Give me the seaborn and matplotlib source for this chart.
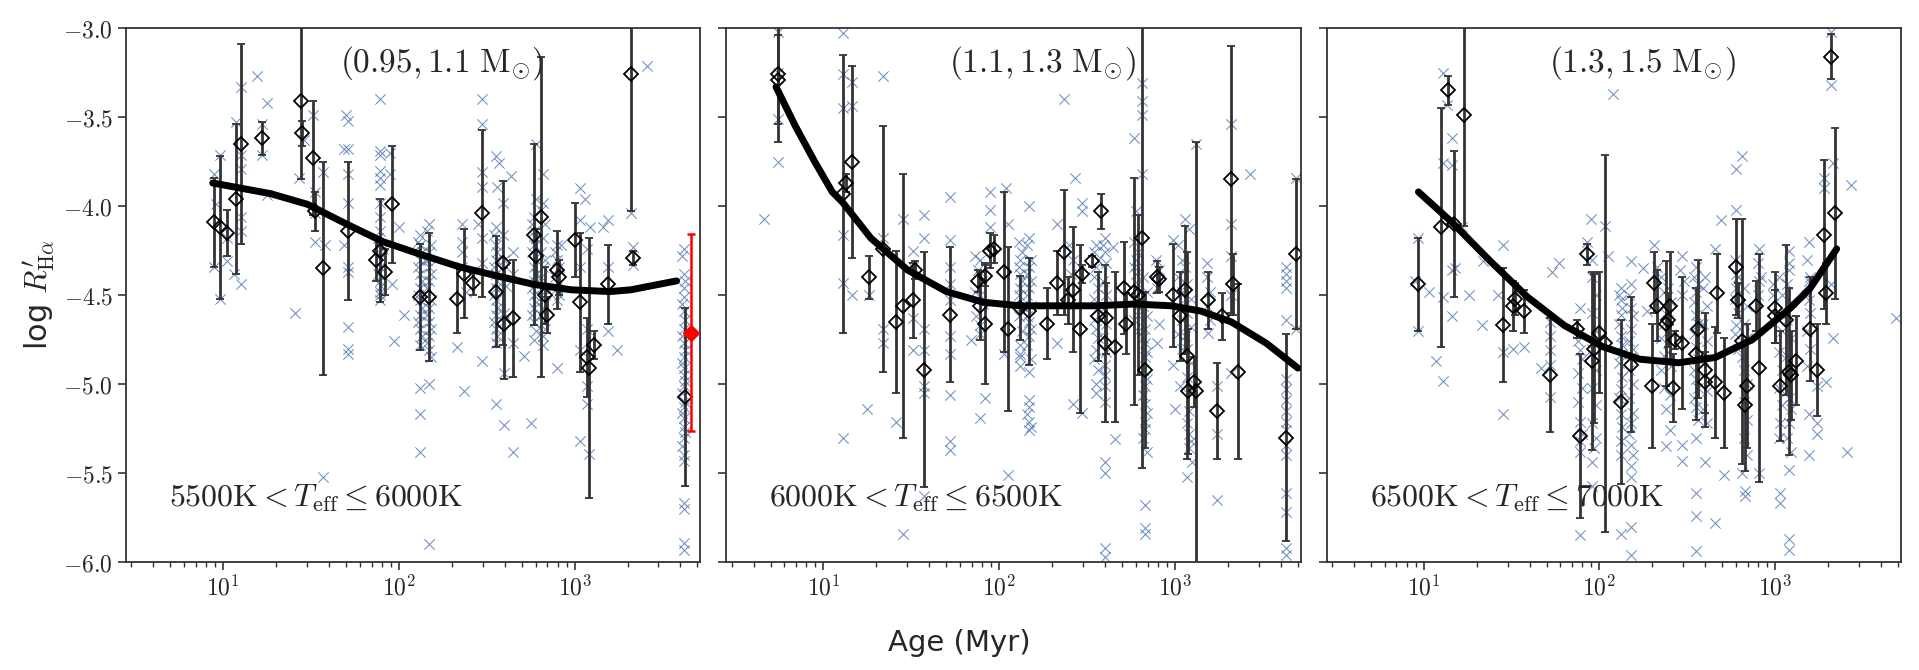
import numpy as np
import pandas as pd
import matplotlib
matplotlib.use("Agg")
import matplotlib.pyplot as plt
import seaborn as sns
from matplotlib.ticker import FuncFormatter, LogLocator, NullFormatter, MultipleLocator

# ---- data: (log10 age [Myr], log R'Halpha) ----
p1_crosses = [
    (0.95, -3.82), (0.95, -4.34), (0.96, -3.99), (0.98, -3.71), (0.98, -4.52), (1.02, -4.31), (1.02, -4.18),
    (1.06, -4.38), (1.10, -4.44), (1.10, -3.33), (1.10, -3.71), (1.10, -3.79), (1.10, -4.06), (1.10, -4.14),
    (1.07, -3.53), (1.19, -3.27), (1.25, -3.42), (1.22, -3.54), (1.22, -3.71), (1.25, -3.94),
    (1.41, -4.60), (1.43, -3.84), (1.46, -3.63), (1.51, -3.49), (1.52, -3.92), (1.52, -4.04), (1.52, -4.20),
    (1.57, -3.81), (1.58, -4.22), (1.57, -5.52),
    (1.70, -3.49), (1.71, -3.52), (1.69, -3.68), (1.71, -3.68), (1.71, -3.82), (1.71, -3.98), (1.71, -4.34),
    (1.71, -4.37), (1.71, -4.68), (1.71, -4.80), (1.71, -4.83), (1.69, -4.22),
    (1.89, -3.40), (1.89, -3.69), (1.89, -3.71), (1.89, -3.80), (1.89, -3.84), (1.89, -3.88), (1.89, -3.98),
    (1.89, -4.06), (1.89, -4.14), (1.89, -4.22), (1.89, -4.34), (1.89, -4.42), (1.89, -4.48), (1.89, -4.53),
    (1.88, -4.18), (1.90, -4.27), (1.88, -4.38), (1.90, -4.45), (1.89, -4.50),
    (1.91, -4.24), (1.95, -3.70), (1.95, -3.82), (1.96, -4.44), (1.97, -4.76), (2.00, -4.12), (2.03, -4.61),
    (2.12, -4.16), (2.12, -4.22), (2.12, -4.30), (2.12, -4.38), (2.12, -4.46), (2.12, -4.53), (2.12, -4.61),
    (2.12, -4.69), (2.12, -5.02), (2.12, -5.17), (2.12, -5.38),
    (2.11, -4.20), (2.13, -4.26), (2.11, -4.34), (2.13, -4.42), (2.11, -4.50), (2.13, -4.57), (2.11, -4.65),
    (2.13, -4.73), (2.12, -4.78),
    (2.17, -4.10), (2.17, -4.26), (2.17, -4.34), (2.17, -4.42), (2.17, -4.57), (2.17, -4.65), (2.17, -4.73),
    (2.17, -4.81), (2.17, -5.00), (2.17, -5.90), (2.15, -4.30),
    (2.16, -4.14), (2.18, -4.22), (2.16, -4.30), (2.18, -4.38), (2.16, -4.46), (2.18, -4.53), (2.16, -4.61),
    (2.18, -4.69), (2.16, -4.77), (2.18, -4.85),
    (2.33, -4.79), (2.36, -4.10), (2.36, -4.20), (2.36, -4.26), (2.36, -4.34), (2.37, -5.04), (2.38, -4.48),
    (2.47, -3.40), (2.47, -3.54), (2.47, -3.81), (2.47, -3.89), (2.47, -4.18), (2.47, -4.32), (2.47, -4.87),
    (2.45, -4.10),
    (2.55, -3.72), (2.57, -3.76), (2.56, -3.89), (2.59, -3.98), (2.64, -3.83), (2.55, -4.12), (2.55, -4.22),
    (2.55, -4.30), (2.55, -4.38), (2.55, -4.46), (2.55, -4.53), (2.55, -4.61), (2.55, -4.69), (2.55, -4.77),
    (2.55, -5.11), (2.60, -4.94), (2.60, -5.23), (2.65, -5.38), (2.65, -4.26), (2.65, -4.38), (2.65, -4.77),
    (2.71, -4.84), (2.59, -4.16),
    (2.54, -4.16), (2.56, -4.26), (2.54, -4.34), (2.56, -4.42), (2.54, -4.50), (2.56, -4.57), (2.54, -4.65),
    (2.56, -4.73), (2.60, -4.30), (2.61, -4.45), (2.60, -4.60),
    (2.78, -3.65), (2.78, -3.96), (2.82, -3.82), (2.77, -4.06), (2.77, -4.14), (2.77, -4.22), (2.77, -4.34),
    (2.77, -4.42), (2.77, -4.50), (2.77, -4.57), (2.77, -4.65), (2.77, -4.75), (2.82, -3.98), (2.82, -4.18),
    (2.82, -4.34), (2.82, -4.46), (2.82, -4.57), (2.82, -4.65), (2.82, -4.73), (2.75, -5.22),
    (2.76, -4.10), (2.78, -4.18), (2.76, -4.26), (2.78, -4.38), (2.76, -4.46), (2.78, -4.54), (2.76, -4.61),
    (2.78, -4.70), (2.81, -4.02), (2.83, -4.10), (2.81, -4.26), (2.83, -4.30), (2.81, -4.40), (2.83, -4.50),
    (2.81, -4.61), (2.83, -4.69), (2.82, -4.78),
    (2.90, -4.22), (2.90, -4.30), (2.90, -4.46), (2.90, -4.53), (2.90, -4.91), (2.92, -4.22),
    (2.89, -4.26), (2.91, -4.34), (2.89, -4.40), (2.91, -4.50),
    (3.03, -3.90), (3.06, -3.96), (3.03, -4.08), (3.09, -4.12), (3.03, -4.34), (3.07, -4.24), (3.03, -4.81),
    (3.07, -4.69), (3.07, -5.01), (3.07, -5.11), (3.03, -5.32), (3.08, -5.39), (3.16, -4.12), (3.19, -4.08),
    (3.19, -4.70), (3.24, -4.81), (3.19, -4.34),
    (3.41, -3.21), (3.32, -4.04), (3.33, -4.23), (3.33, -4.33),
    (3.62, -4.24), (3.62, -4.38), (3.62, -4.46), (3.62, -4.51), (3.62, -4.59), (3.62, -4.69), (3.62, -4.77),
    (3.62, -4.85), (3.62, -4.91), (3.62, -4.95), (3.62, -5.01), (3.62, -5.13), (3.62, -5.19), (3.62, -5.24),
    (3.62, -5.30), (3.62, -5.40), (3.62, -5.43), (3.62, -5.67), (3.62, -5.70), (3.62, -5.89), (3.62, -5.93),
    (3.61, -4.28), (3.63, -4.42), (3.61, -4.55), (3.63, -4.64), (3.61, -4.73), (3.63, -4.81), (3.61, -4.88),
    (3.63, -4.98), (3.61, -5.05), (3.63, -5.10), (3.61, -5.16), (3.63, -5.27), (3.61, -5.35),
]

p2_crosses = [
    (0.74, -3.02), (0.74, -3.25), (0.74, -3.51), (0.74, -3.75), (0.66, -4.07),
    (1.11, -3.03), (1.11, -3.26), (1.11, -3.45), (1.16, -3.30), (1.16, -3.44), (1.34, -3.27),
    (1.11, -4.16), (1.11, -4.43), (1.16, -4.50), (1.11, -5.30), (1.25, -5.14), (1.26, -4.50),
    (1.34, -4.18), (1.34, -4.69), (1.34, -4.77), (1.41, -5.21), (1.45, -4.07), (1.45, -5.84),
    (1.51, -4.25), (1.51, -4.34), (1.51, -4.81), (1.51, -4.63),
    (1.57, -4.05), (1.57, -4.18), (1.57, -4.69), (1.57, -4.81), (1.57, -5.01), (1.57, -5.05), (1.57, -5.63),
    (1.72, -3.95), (1.72, -4.19), (1.72, -4.34), (1.72, -4.44), (1.72, -4.53), (1.72, -4.73), (1.72, -4.83),
    (1.72, -5.06), (1.72, -5.32), (1.72, -5.37), (1.84, -4.75),
    (1.89, -5.19), (1.92, -5.08), (1.89, -4.30), (1.89, -4.50), (1.89, -4.67),
    (1.86, -4.28), (1.88, -4.36), (1.90, -4.42), (1.86, -4.48), (1.91, -4.55), (1.87, -4.62), (1.89, -4.72),
    (1.95, -3.92), (1.95, -4.02), (1.95, -4.12), (2.05, -4.10), (2.04, -3.90), (2.03, -4.83), (2.05, -5.51),
    (2.12, -4.30), (2.12, -4.38), (2.12, -4.46), (2.12, -4.85), (2.12, -4.83),
    (2.11, -4.20), (2.13, -4.26), (2.11, -4.34), (2.13, -4.42), (2.11, -4.50), (2.13, -4.56), (2.11, -4.62),
    (2.13, -4.70), (2.12, -4.78), (2.12, -4.90),
    (2.17, -4.00), (2.17, -4.18), (2.17, -4.34), (2.17, -4.46), (2.17, -4.65), (2.17, -4.73), (2.17, -4.93),
    (2.17, -5.09), (2.17, -5.13), (2.17, -5.21), (2.17, -5.26),
    (2.16, -4.22), (2.18, -4.30), (2.16, -4.38), (2.18, -4.42), (2.16, -4.50), (2.18, -4.56), (2.16, -4.62),
    (2.18, -4.69), (2.16, -4.78), (2.18, -4.86), (2.16, -5.17), (2.18, -5.24),
    (2.33, -4.10), (2.33, -4.77), (2.37, -3.40), (2.43, -3.84), (2.42, -5.11), (2.47, -5.16),
    (2.47, -3.98), (2.47, -4.03), (2.40, -4.22), (2.42, -4.30), (2.41, -4.38),
    (2.55, -4.22), (2.55, -4.34), (2.55, -4.69), (2.55, -4.81), (2.55, -5.05),
    (2.54, -4.26), (2.56, -4.30), (2.54, -4.40), (2.56, -4.46), (2.54, -4.52), (2.56, -4.58), (2.54, -4.64),
    (2.56, -4.74), (2.54, -4.86), (2.56, -4.92), (2.55, -5.00),
    (2.60, -4.18), (2.60, -4.26), (2.60, -4.89), (2.60, -5.01), (2.60, -5.44), (2.60, -5.50), (2.60, -5.92),
    (2.60, -5.97), (2.65, -4.23), (2.66, -5.31),
    (2.59, -4.22), (2.61, -4.32), (2.59, -4.42), (2.61, -4.50), (2.59, -4.58), (2.61, -4.66), (2.59, -4.74),
    (2.61, -4.82), (2.60, -4.95), (2.60, -5.10),
    (2.77, -3.62), (2.81, -3.31), (2.81, -3.41), (2.81, -3.49), (2.81, -3.82), (2.78, -4.03), (2.78, -4.30),
    (2.78, -4.38), (2.79, -4.61),
    (2.77, -4.20), (2.79, -4.26), (2.77, -4.34), (2.79, -4.44), (2.77, -4.52), (2.79, -4.56), (2.77, -4.64),
    (2.79, -4.70),
    (2.83, -4.69), (2.83, -4.77), (2.83, -4.85), (2.83, -5.01), (2.83, -5.11), (2.83, -5.21), (2.83, -5.25),
    (2.83, -5.68), (2.83, -5.81), (2.83, -5.84), (2.91, -4.66), (2.90, -4.77),
    (2.82, -4.40), (2.84, -4.48), (2.82, -4.56), (2.84, -4.62), (2.82, -4.74), (2.84, -4.82), (2.82, -4.92),
    (2.84, -4.97), (2.82, -5.06), (2.84, -5.16), (2.82, -5.30), (2.84, -5.38),
    (2.89, -4.30), (2.91, -4.36), (2.90, -4.46),
    (2.99, -4.19), (2.99, -4.89), (3.00, -5.14), (3.03, -5.01), (3.06, -4.07), (3.08, -4.13), (3.06, -4.34),
    (3.06, -4.73), (3.08, -5.15), (3.08, -5.28), (3.08, -5.36), (3.07, -5.52), (3.10, -5.44), (3.12, -3.65),
    (3.02, -4.22), (3.04, -4.30), (3.02, -4.40), (3.04, -4.48), (3.02, -4.56), (3.04, -4.64), (3.02, -4.72),
    (3.04, -4.80), (3.07, -4.44), (3.09, -4.52), (3.07, -4.60), (3.09, -4.68), (3.07, -4.80), (3.09, -4.88),
    (3.07, -4.96), (3.09, -5.04), (3.07, -5.22), (3.09, -5.32),
    (3.18, -4.32), (3.19, -4.71), (3.24, -5.01), (3.24, -5.28), (3.24, -5.65),
    (3.18, -4.40), (3.20, -4.48), (3.18, -4.56), (3.20, -4.64),
    (3.32, -3.54), (3.32, -4.10), (3.32, -4.28), (3.32, -4.50), (3.43, -3.82), (3.32, -4.94),
    (3.63, -4.34), (3.63, -4.38), (3.63, -4.42), (3.63, -4.46), (3.63, -4.64), (3.63, -4.97), (3.63, -5.03),
    (3.63, -5.09), (3.63, -5.15), (3.63, -5.21), (3.63, -5.26), (3.63, -5.34), (3.63, -5.40), (3.63, -5.61),
    (3.63, -5.72), (3.63, -5.92), (3.63, -5.96), (3.69, -3.84), (3.69, -4.69),
]

p3_crosses = [
    (1.11, -3.25), (1.13, -3.43), (1.16, -3.62), (1.11, -3.76), (1.16, -3.77), (1.16, -4.36), (1.18, -4.35),
    (1.11, -4.51), (1.16, -4.62), (1.26, -4.50), (1.07, -4.87), (1.11, -4.98), (0.95, -4.42), (0.97, -4.18),
    (0.97, -4.70), (1.03, -4.48), (1.22, -4.12), (1.33, -4.67), (1.34, -4.31), (1.45, -4.22), (1.42, -4.50),
    (1.45, -4.82), (1.51, -4.80), (1.57, -4.79), (1.45, -5.17),
    (1.73, -4.37), (1.77, -4.32), (1.72, -4.65), (1.72, -4.73), (1.72, -4.81), (1.72, -4.89), (1.67, -4.91),
    (1.72, -5.07),
    (1.89, -4.57), (1.89, -4.81), (1.89, -5.21), (1.89, -5.32), (1.89, -5.85),
    (1.88, -4.76), (1.90, -4.86), (1.88, -4.94), (1.90, -5.02), (1.88, -5.10), (1.90, -5.28), (1.89, -5.38),
    (1.95, -4.07), (1.93, -4.20), (1.96, -4.30), (1.97, -5.36), (1.96, -5.44), (1.96, -5.57),
    (1.96, -4.40), (1.98, -4.50), (1.96, -4.60), (1.98, -4.70), (1.96, -4.80), (1.98, -4.92), (1.96, -5.02),
    (1.98, -5.12), (1.96, -5.22), (1.98, -5.30),
    (2.03, -4.11), (2.05, -4.28), (2.08, -3.37),
    (2.12, -4.46), (2.12, -4.53), (2.12, -4.61), (2.12, -4.73), (2.12, -4.83), (2.12, -5.03), (2.12, -5.17),
    (2.12, -5.32), (2.12, -5.40), (2.12, -5.84),
    (2.11, -4.50), (2.13, -4.57), (2.11, -4.66), (2.13, -4.78), (2.11, -4.88), (2.13, -4.96), (2.11, -5.08),
    (2.13, -5.24),
    (2.18, -4.31), (2.18, -4.44), (2.18, -4.57), (2.18, -4.69), (2.18, -4.85), (2.18, -5.22), (2.18, -5.34),
    (2.18, -5.46), (2.18, -5.52), (2.18, -5.80), (2.18, -5.96),
    (2.17, -4.50), (2.19, -4.62), (2.17, -4.76), (2.19, -4.80), (2.17, -4.92), (2.19, -5.00), (2.17, -5.08),
    (2.19, -5.16), (2.17, -5.28), (2.19, -5.40),
    (2.25, -4.35), (2.27, -4.59), (2.31, -4.22), (2.33, -4.34), (2.38, -5.14), (2.38, -5.35), (2.40, -5.26),
    (2.35, -4.40), (2.37, -4.48), (2.35, -4.58), (2.37, -4.66), (2.35, -4.74), (2.37, -4.84), (2.35, -4.92),
    (2.37, -5.02), (2.39, -4.46), (2.41, -4.54), (2.39, -4.64), (2.41, -4.72), (2.39, -4.82), (2.41, -4.90),
    (2.40, -5.06),
    (2.47, -4.28), (2.47, -5.34), (2.47, -5.43), (2.46, -4.36), (2.48, -4.42), (2.47, -4.50),
    (2.55, -4.34), (2.55, -4.48), (2.55, -4.61), (2.55, -4.79), (2.55, -4.97), (2.55, -5.13), (2.55, -5.61),
    (2.55, -5.74), (2.55, -5.94),
    (2.54, -4.40), (2.56, -4.44), (2.54, -4.54), (2.56, -4.66), (2.54, -4.72), (2.56, -4.86), (2.54, -4.92),
    (2.56, -5.02), (2.54, -5.08), (2.56, -5.20), (2.55, -5.30),
    (2.60, -4.40), (2.60, -5.44), (2.66, -4.24), (2.66, -5.78), (2.69, -4.08), (2.71, -5.51),
    (2.59, -4.46), (2.61, -4.56), (2.59, -4.66), (2.61, -4.76), (2.59, -4.86), (2.61, -5.04), (2.59, -5.14),
    (2.61, -5.22),
    (2.78, -4.02), (2.78, -3.79), (2.81, -3.72), (2.78, -4.38), (2.78, -4.46), (2.78, -4.67), (2.81, -4.85),
    (2.81, -5.50), (2.83, -5.60), (2.83, -5.63),
    (2.77, -4.30), (2.79, -4.40), (2.77, -4.52), (2.79, -4.60), (2.77, -4.72), (2.79, -4.80),
    (2.82, -4.46), (2.84, -4.56), (2.82, -4.66), (2.84, -4.74), (2.82, -4.92), (2.84, -5.00), (2.82, -5.10),
    (2.84, -5.20), (2.82, -5.30), (2.84, -5.40),
    (2.91, -4.24), (2.91, -4.42), (2.91, -5.50), (2.99, -4.44), (2.99, -4.50), (3.03, -5.61), (3.03, -5.67),
    (2.90, -4.32), (2.92, -4.40), (2.90, -4.50),
    (3.08, -4.25), (3.08, -4.32), (3.08, -4.36), (3.08, -5.08), (3.08, -5.22), (3.08, -5.48), (3.08, -5.87),
    (3.08, -5.93), (3.03, -5.22),
    (3.02, -4.40), (3.04, -4.50), (3.02, -4.60), (3.04, -4.70), (3.02, -4.82), (3.04, -4.92), (3.02, -5.02),
    (3.04, -5.12), (3.02, -5.30), (3.07, -4.44), (3.09, -4.54), (3.07, -4.64), (3.09, -4.74), (3.07, -4.84),
    (3.09, -4.94), (3.07, -5.04), (3.09, -5.14), (3.07, -5.30), (3.09, -5.38),
    (3.19, -4.20), (3.19, -4.42), (3.19, -4.53), (3.19, -5.17), (3.19, -5.40), (3.24, -5.22), (3.24, -5.28),
    (3.18, -4.30), (3.20, -4.40), (3.18, -4.50), (3.20, -4.60), (3.18, -4.70), (3.20, -4.80), (3.18, -4.90),
    (3.24, -5.01), (3.28, -3.84), (3.28, -3.90), (3.29, -4.99), (3.32, -3.02), (3.32, -3.32), (3.33, -3.76),
    (3.33, -4.74), (3.41, -5.38), (3.43, -3.88), (3.69, -4.63), (3.32, -4.44),
]

# individual measurements with uncertainties: (log10 age, value, error)
p1_diamonds = [
    (0.95, -4.09, 0.25), (0.98, -4.12, 0.40), (1.02, -4.15, 0.13), (1.07, -3.96, 0.42), (1.10, -3.65, 0.56),
    (1.22, -3.62, 0.09), (1.44, -3.41, 0.44), (1.45, -3.59, 0.07), (1.51, -3.73, 0.32), (1.52, -4.03, 0.11),
    (1.57, -4.35, 0.60), (1.71, -4.14, 0.39), (1.89, -4.25, 0.29), (1.87, -4.30, 0.12), (1.92, -4.37, 0.13),
    (1.96, -3.99, 0.33), (2.12, -4.51, 0.30), (2.17, -4.51, 0.36), (2.33, -4.52, 0.19), (2.37, -4.38, 0.25),
    (2.42, -4.43, 0.07), (2.47, -4.04, 0.47), (2.55, -4.48, 0.31), (2.59, -4.32, 0.46), (2.60, -4.66, 0.31),
    (2.65, -4.63, 0.33), (2.77, -4.16, 0.51), (2.78, -4.28, 0.15), (2.81, -4.06, 0.90), (2.83, -4.50, 0.16),
    (2.84, -4.61, 0.10), (2.90, -4.36, 0.22), (2.91, -4.40, 0.10), (3.00, -4.19, 0.21), (3.03, -4.54, 0.39),
    (3.07, -4.85, 0.22), (3.08, -4.91, 0.73), (3.11, -4.78, 0.08), (3.19, -4.44, 0.22), (3.32, -3.26, 0.77),
    (3.33, -4.29, 0.04), (3.63, -5.07, 0.50),
]
p2_diamonds = [
    (0.74, -3.26, 0.38), (0.74, -3.29, 0.25), (1.11, -3.93, 0.78), (1.13, -3.87, 0.05), (1.16, -3.75, 0.54),
    (1.26, -4.40, 0.12), (1.34, -4.24, 0.69), (1.41, -4.65, 0.40), (1.45, -4.56, 0.74), (1.51, -4.53, 0.21),
    (1.52, -4.36, 0.05), (1.57, -4.92, 0.66), (1.72, -4.61, 0.38), (1.88, -4.42, 0.06), (1.89, -4.56, 0.19),
    (1.92, -4.39, 0.06), (1.92, -4.66, 0.34), (1.95, -4.25, 0.10), (1.97, -4.24, 0.08), (2.03, -4.37, 0.45),
    (2.05, -4.69, 0.46), (2.12, -4.57, 0.18), (2.17, -4.59, 0.30), (2.27, -4.66, 0.20), (2.33, -4.43, 0.18),
    (2.37, -4.26, 0.35), (2.39, -4.53, 0.13), (2.42, -4.47, 0.35), (2.46, -4.69, 0.47), (2.47, -4.38, 0.05),
    (2.53, -4.31, 0.03), (2.58, -4.03, 0.10), (2.56, -4.62, 0.25), (2.60, -4.77, 0.44), (2.61, -4.63, 0.20),
    (2.66, -4.79, 0.42), (2.71, -4.46, 0.26), (2.72, -4.66, 0.17), (2.77, -4.48, 0.64), (2.79, -4.50, 0.45),
    (2.81, -4.18, 1.29), (2.83, -4.92, 0.44), (2.90, -4.40, 0.09), (2.91, -4.41, 0.07), (2.99, -4.50, 0.29),
    (3.03, -4.62, 0.25), (3.06, -4.47, 0.36), (3.07, -4.84, 0.58), (3.075, -5.04, 0.35), (3.11, -4.99, 0.14),
    (3.12, -5.04, 1.40), (3.19, -4.53, 0.16), (3.24, -5.15, 0.27), (3.27, -4.62, 0.13), (3.32, -3.85, 0.75),
    (3.33, -4.44, 0.17), (3.36, -4.93, 0.49), (3.63, -5.30, 0.58), (3.69, -4.27, 0.42),
]
p3_diamonds = [
    (0.97, -4.44, 0.26), (1.10, -4.12, 0.67), (1.14, -3.35, 0.08), (1.17, -4.10, 0.41), (1.23, -3.49, 0.62),
    (1.45, -4.67, 0.32), (1.51, -4.56, 0.14), (1.52, -4.52, 0.09), (1.57, -4.59, 0.12), (1.72, -4.95, 0.32),
    (1.87, -4.69, 0.05), (1.89, -5.29, 0.46), (1.93, -4.27, 0.06), (1.96, -4.87, 0.50), (1.97, -4.80, 0.42),
    (2.00, -4.71, 0.34), (2.03, -4.77, 1.06), (2.12, -5.10, 0.46), (2.18, -4.89, 0.38), (2.30, -5.01, 0.35),
    (2.31, -4.43, 0.17), (2.33, -4.56, 0.20), (2.38, -4.66, 0.35), (2.39, -4.64, 0.15), (2.40, -4.56, 0.30),
    (2.42, -5.02, 0.19), (2.43, -4.75, 0.05), (2.47, -4.77, 0.37), (2.56, -4.69, 0.39), (2.55, -4.83, 0.37),
    (2.60, -4.92, 0.32), (2.60, -4.99, 0.17), (2.66, -4.99, 0.31), (2.67, -4.49, 0.22), (2.71, -5.05, 0.31),
    (2.78, -4.34, 0.27), (2.79, -4.53, 0.10), (2.81, -4.76, 0.69), (2.83, -5.12, 0.37), (2.84, -5.01, 0.35),
    (2.89, -4.56, 0.14), (2.91, -4.91, 0.64), (3.00, -4.57, 0.20), (3.00, -4.62, 0.15), (3.03, -5.01, 0.31),
    (3.06, -4.64, 0.42), (3.08, -4.93, 0.47), (3.09, -4.95, 0.25), (3.12, -4.87, 0.25), (3.20, -4.69, 0.29),
    (3.24, -4.92, 0.26), (3.28, -4.16, 0.42), (3.29, -4.49, 0.17), (3.34, -4.04, 0.48), (3.32, -3.16, 0.125),
]

# fitted relations
p1_fit = [(0.94, -3.87), (1.27, -3.93), (1.48, -3.99), (1.70, -4.10), (1.91, -4.20), (2.12, -4.27),
          (2.34, -4.34), (2.55, -4.39), (2.77, -4.44), (2.98, -4.47), (3.20, -4.48), (3.32, -4.47),
          (3.58, -4.42)]
p2_fit = [(0.73, -3.33), (0.84, -3.55), (0.95, -3.75), (1.05, -3.92), (1.11, -3.98), (1.27, -4.18),
          (1.48, -4.36), (1.70, -4.48), (1.91, -4.54), (2.12, -4.56), (2.34, -4.56), (2.55, -4.56),
          (2.77, -4.55), (2.98, -4.56), (3.15, -4.59), (3.32, -4.65), (3.52, -4.77), (3.70, -4.91)]
p3_fit = [(0.97, -3.92), (1.16, -4.09), (1.38, -4.31), (1.59, -4.51), (1.80, -4.67), (2.02, -4.79),
          (2.23, -4.86), (2.45, -4.88), (2.66, -4.85), (2.87, -4.75), (3.09, -4.57), (3.20, -4.46),
          (3.35, -4.24)]

# the Sun
sun_logage, sun_val, sun_err = 3.66, -4.71, 0.556

mass_labels = [r"$(0.95, 1.1\ \mathrm{M}_{\odot})$", r"$(1.1, 1.3\ \mathrm{M}_{\odot})$",
               r"$(1.3, 1.5\ \mathrm{M}_{\odot})$"]
teff_labels = [r"$5500\mathrm{K} < T_{\mathrm{eff}} \leq 6000\mathrm{K}$",
               r"$6000\mathrm{K} < T_{\mathrm{eff}} \leq 6500\mathrm{K}$",
               r"$6500\mathrm{K} < T_{\mathrm{eff}} \leq 7000\mathrm{K}$"]

sns.set_style("ticks")
plt.rcParams["font.family"] = ["DejaVu Sans"]
plt.rcParams["mathtext.fontset"] = "cm"

fig, axes = plt.subplots(1, 3, figsize=(19.19, 6.7), dpi=100, sharex=True, sharey=True)
fig.subplots_adjust(left=0.0657, right=0.9906, top=0.958, bottom=0.161, wspace=0.045)

panels = zip(axes, [p1_crosses, p2_crosses, p3_crosses], [p1_diamonds, p2_diamonds, p3_diamonds],
             [p1_fit, p2_fit, p3_fit], mass_labels, teff_labels)

for ax, crosses, diamonds, fit, mlab, tlab in panels:
    ax.set_xscale("log")
    cx = pd.DataFrame(crosses, columns=["logage", "logR"])
    cx["age"] = 10 ** cx["logage"]
    sns.scatterplot(data=cx, x="age", y="logR", marker="x", color="#4C72B0", s=55,
                    linewidth=0.75, alpha=0.8, ax=ax, zorder=1)

    dm = pd.DataFrame(diamonds, columns=["logage", "logR", "err"])
    ax.errorbar(10 ** dm["logage"], dm["logR"], yerr=dm["err"], fmt="D", ms=7, mfc="none",
                mec="black", mew=1.3, ecolor="#333333", elinewidth=2.0, capsize=3, capthick=2.0,
                zorder=2)

    ft = pd.DataFrame(fit, columns=["logage", "logR"])
    ft["age"] = 10 ** ft["logage"]
    sns.lineplot(data=ft, x="age", y="logR", color="black", linewidth=5, ax=ax, zorder=4,
                 solid_capstyle="round")

    ax.text(0.55, 0.935, mlab, transform=ax.transAxes, ha="center", va="center", fontsize=24)
    ax.text(0.075, 0.12, tlab, transform=ax.transAxes, ha="left", va="center", fontsize=23)

    ax.set_xlabel("")
    ax.set_ylabel("")
    for sp in ax.spines.values():
        sp.set_linewidth(1.3)
        sp.set_color("#333333")
    ax.tick_params(which="major", length=6, width=1.2, labelsize=17, color="#333333")
    ax.tick_params(which="minor", length=3.5, width=1.0, color="#333333")

axes[0].errorbar([10 ** sun_logage], [sun_val], yerr=[sun_err], fmt="D", ms=8, color="red",
                 elinewidth=1.8, capsize=3, capthick=1.8, zorder=5)

ax0 = axes[0]
ax0.set_xlim(2.8, 5200)
ax0.set_ylim(-6.0, -3.0)
ax0.yaxis.set_major_locator(MultipleLocator(0.5))
ax0.yaxis.set_major_formatter(FuncFormatter(lambda v, _: rf"${v:.1f}$"))
ax0.xaxis.set_major_locator(LogLocator(base=10))
ax0.xaxis.set_minor_locator(LogLocator(base=10, subs=np.arange(2, 10)))
ax0.xaxis.set_major_formatter(FuncFormatter(lambda v, _: rf"$10^{{{int(round(np.log10(v)))}}}$"))
ax0.xaxis.set_minor_formatter(NullFormatter())
ax0.set_ylabel(r"log $R^{\prime}_{\mathrm{H}\alpha}$", fontsize=22)

fig.text(0.5, 0.04, "Age (Myr)", ha="center", va="center", fontsize=21)

fig.savefig("out.png", dpi=100)
